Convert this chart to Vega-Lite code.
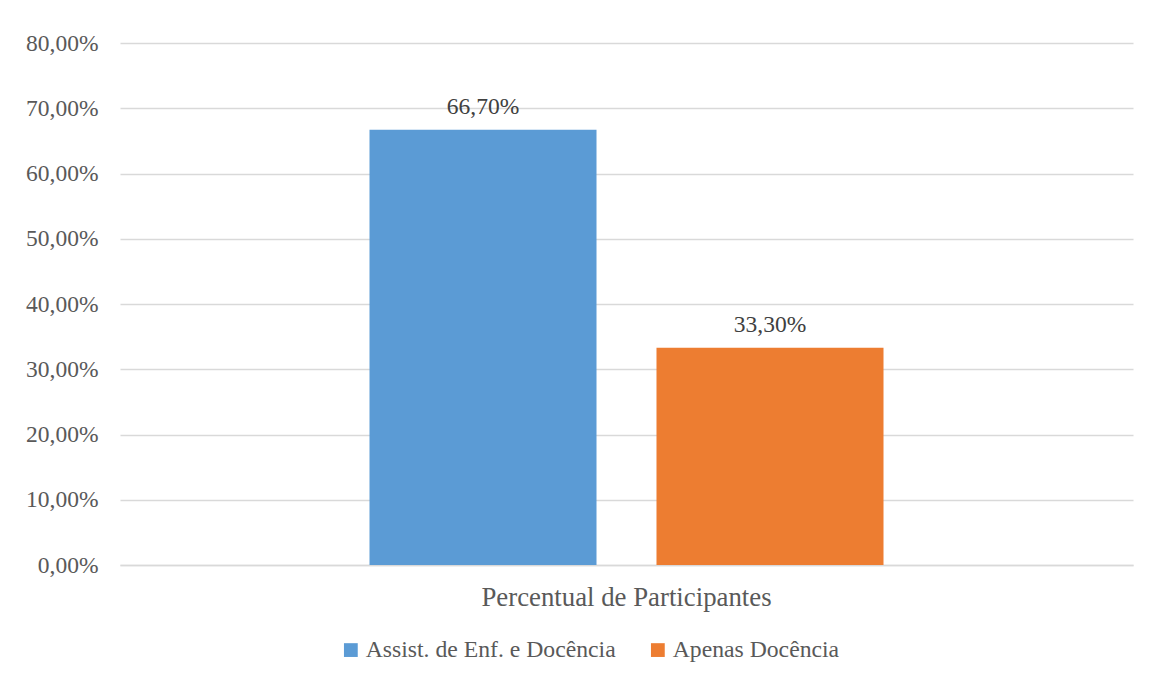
{
  "$schema": "https://vega.github.io/schema/vega-lite/v6.json",
  "width": 1013,
  "height": 522,
  "autosize": {"type": "none"},
  "padding": {"left": 120, "top": 43, "right": 16, "bottom": 114},
  "background": "white",
  "data": {
    "values": [
      {"categoria": "Percentual de Participantes", "grupo": "Assist. de Enf. e Docência", "valor": 0.667},
      {"categoria": "Percentual de Participantes", "grupo": "Apenas Docência", "valor": 0.333}
    ]
  },
  "encoding": {
    "x": {
      "field": "categoria",
      "type": "nominal",
      "scale": {"paddingInner": 0, "paddingOuter": 0.4854},
      "axis": {
        "title": null,
        "labelAngle": 0,
        "labelFontSize": 26.8,
        "labelColor": "#595959",
        "labelPadding": 19,
        "labelLimit": 0,
        "ticks": false,
        "domainColor": "#d9d9d9",
        "domainWidth": 1.5
      }
    },
    "xOffset": {
      "field": "grupo",
      "type": "nominal",
      "sort": ["Assist. de Enf. e Docência", "Apenas Docência"],
      "scale": {"paddingInner": 0.209, "paddingOuter": 0}
    },
    "y": {
      "field": "valor",
      "type": "quantitative",
      "scale": {"domain": [0, 0.8]},
      "axis": {
        "title": null,
        "format": ".2%",
        "values": [0, 0.1, 0.2, 0.3, 0.4, 0.5, 0.6, 0.7, 0.8],
        "labelOverlap": false,
        "labelFontSize": 23.5,
        "labelColor": "#595959",
        "labelPadding": 22,
        "ticks": false,
        "domain": false,
        "grid": true,
        "gridColor": "#d9d9d9",
        "gridWidth": 1.5
      }
    }
  },
  "layer": [
    {
      "mark": {"type": "bar"},
      "encoding": {
        "color": {
          "field": "grupo",
          "type": "nominal",
          "sort": ["Assist. de Enf. e Docência", "Apenas Docência"],
          "scale": {"domain": ["Assist. de Enf. e Docência", "Apenas Docência"], "range": ["#5B9BD5", "#ED7D31"]},
          "legend": {
            "title": null,
            "orient": "none",
            "direction": "horizontal",
            "legendX": 219,
            "legendY": 595,
            "symbolType": "square",
            "symbolSize": 190,
            "symbolStrokeWidth": 0,
            "labelFontSize": 23.7,
            "labelColor": "#595959",
            "labelOffset": 3,
            "labelLimit": 0,
            "columnPadding": 30
          }
        }
      }
    },
    {
      "mark": {"type": "text", "baseline": "bottom", "dy": -11, "fontSize": 23.5, "color": "#404040"},
      "encoding": {
        "text": {"field": "valor", "type": "quantitative", "format": ".2%"}
      }
    }
  ],
  "config": {
    "font": "Liberation Serif",
    "view": {"stroke": null},
    "locale": {
      "number": {"decimal": ",", "thousands": ".", "grouping": [3], "currency": ["R$", ""]}
    }
  }
}
